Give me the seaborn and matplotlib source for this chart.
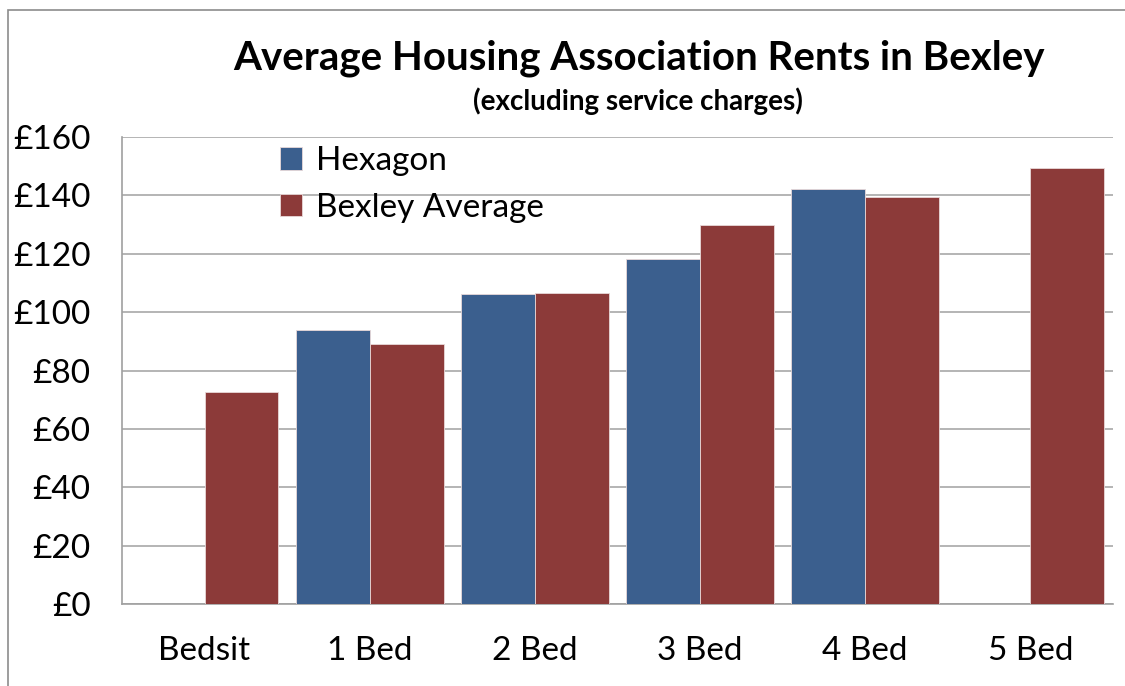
import numpy as np
import pandas as pd
import matplotlib
matplotlib.use("Agg")
import matplotlib.pyplot as plt
import seaborn as sns
from matplotlib.patches import Rectangle

# data
categories = ["Bedsit", "1 Bed", "2 Bed", "3 Bed", "4 Bed", "5 Bed"]
hexagon = [None, 94.0, 106.3, 118.3, 142.2, None]
bexley_avg = [72.8, 89.2, 106.6, 129.9, 139.5, 149.4]
series_names = ["Hexagon", "Bexley Average"]
y_ticks = [0, 20, 40, 60, 80, 100, 120, 140, 160]
y_tick_labels = ["£0", "£20", "£40", "£60", "£80", "£100", "£120", "£140", "£160"]

df = pd.DataFrame({
    "Type": categories * 2,
    "Series": [series_names[0]] * len(categories) + [series_names[1]] * len(categories),
    "Rent": hexagon + bexley_avg,
}).dropna()

sns.set_theme(style="white")
plt.rcParams["font.family"] = ["Lato", "DejaVu Sans"]
plt.rcParams["text.color"] = "black"
plt.rcParams["xtick.labelcolor"] = "black"
plt.rcParams["ytick.labelcolor"] = "black"

fig = plt.figure(figsize=(11.25, 6.86), dpi=100)
ax = fig.add_axes([0.1084, 0.1195, 0.8809, 0.6808])

palette = {"Hexagon": "#3B5F8E", "Bexley Average": "#8C3A39"}
sns.barplot(data=df, x="Type", y="Rent", hue="Series", order=categories,
            hue_order=series_names, palette=palette, width=0.895,
            saturation=1, edgecolor="#E8D8D8", linewidth=0.6, ax=ax, zorder=3)

ax.set_xlim(-0.5, len(categories) - 0.5)
ax.set_ylim(0, 160)
ax.set_yticks(y_ticks)
ax.set_yticklabels(y_tick_labels, fontsize=24, color="black")
ax.yaxis.grid(True, color="#A8A8A8", linewidth=1.2, zorder=0)
ax.set_axisbelow(True)

ax.set_xticks(range(len(categories)))
ax.set_xticklabels(categories, fontsize=24, color="black")
ax.set_xticks(np.arange(-0.5, len(categories)), minor=True)
ax.tick_params(axis="x", which="major", length=0, pad=23)
ax.tick_params(axis="x", which="minor", length=9, color="#A0A0A0", width=1.2)
ax.tick_params(axis="y", length=9, color="#A0A0A0", width=1.2, pad=13.5)
ax.set_xlabel("")
ax.set_ylabel("")

for side in ["top", "right"]:
    ax.spines[side].set_visible(False)
for side in ["left", "bottom"]:
    ax.spines[side].set_color("#A0A0A0")
    ax.spines[side].set_linewidth(1.2)

handles, labels = ax.get_legend_handles_labels()
leg = ax.legend(handles, labels, loc="upper left", bbox_to_anchor=(0.129, 1.045),
                frameon=False, fontsize=24, handlelength=0.68, handleheight=0.68,
                handletextpad=0.4, labelspacing=0.5)
for t in leg.get_texts():
    t.set_color("black")

fig.text(0.568, 0.915, "Average Housing Association Rents in Bexley",
         ha="center", va="center", fontsize=29, fontweight="bold", color="black")
fig.text(0.567, 0.852, "(excluding service charges)",
         ha="center", va="center", fontsize=20, fontweight="bold", color="black")

# chart outline like the spreadsheet chart area
fig.patches.append(Rectangle((8 / 1125, -0.1), 1.2, 1 - 10 / 686 + 0.1,
                             transform=fig.transFigure, fill=False,
                             edgecolor="#8C8C8C", linewidth=1.2))

fig.savefig("out.png", dpi=100)
